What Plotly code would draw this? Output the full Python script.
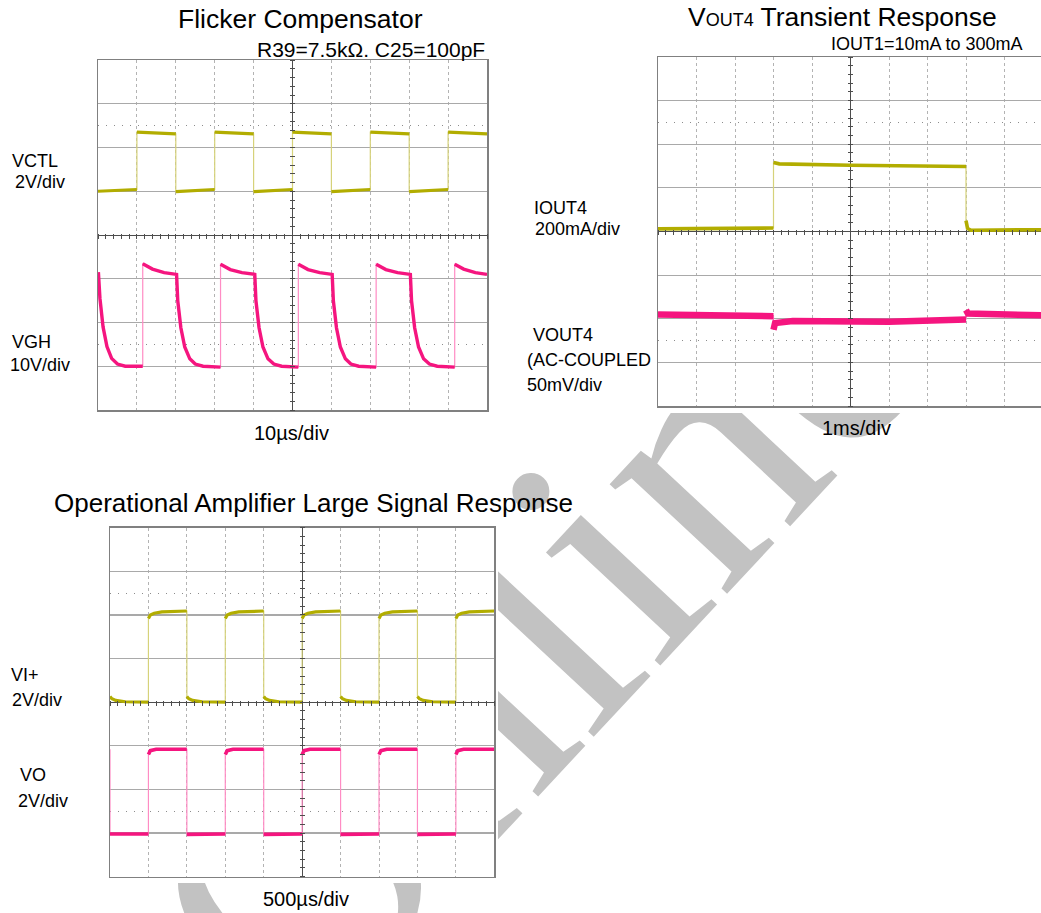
import plotly.graph_objects as go

W, H = 1041, 913

# ---------------- data (time and amplitude in scope divisions) ----------------
# Flicker Compensator (10us/div): VCTL 2V/div, VGH 10V/div
vctl_t = [-5, -4, -4, -3, -3, -2, -2, -1, -1, 0, 0, 1, 1, 2, 2, 3, 3, 4, 4, 5]
vctl_v = [1.0, 1.04, 2.35, 2.31, 0.99, 1.04, 2.35, 2.31, 0.99, 1.04, 2.35, 2.31,
          0.99, 1.04, 2.35, 2.31, 0.99, 1.04, 2.35, 2.31]

vgh_t = [-4.99, -4.95, -4.87, -4.77, -4.65, -4.5, -4.3, -3.85,
         -3.85, -3.6, -3.3, -2.98,
         -2.95, -2.87, -2.77, -2.64, -2.5, -2.3, -1.85,
         -1.85, -1.6, -1.3, -0.97,
         -0.94, -0.86, -0.76, -0.63, -0.48, -0.28, 0.15,
         0.15, 0.4, 0.7, 1.02,
         1.05, 1.13, 1.23, 1.36, 1.5, 1.7, 2.15,
         2.15, 2.4, 2.7, 3.03,
         3.06, 3.14, 3.24, 3.37, 3.52, 3.72, 4.17,
         4.17, 4.4, 4.7, 5.0]
vgh_v = [-0.85, -1.45, -2.1, -2.55, -2.82, -2.95, -3.0, -3.0,
         -0.66, -0.78, -0.86, -0.9,
         -1.5, -2.12, -2.56, -2.83, -2.95, -3.0, -3.02,
         -0.67, -0.79, -0.86, -0.9,
         -1.5, -2.12, -2.56, -2.83, -2.95, -3.0, -3.02,
         -0.67, -0.79, -0.86, -0.9,
         -1.5, -2.12, -2.56, -2.83, -2.95, -3.0, -3.02,
         -0.67, -0.79, -0.86, -0.9,
         -1.5, -2.12, -2.56, -2.83, -2.95, -3.0, -3.02,
         -0.67, -0.78, -0.86, -0.9]

# VOUT4 Transient Response (1ms/div): IOUT4 200mA/div, VOUT4 50mV/div (AC)
iout4_t = [-5, -2, -2, -1.85, 0, 3.0, 3.0, 3.04, 3.12, 5]
iout4_v = [0.06, 0.08, 1.58, 1.55, 1.52, 1.49, 0.25, 0.07, 0.03, 0.04]

vout4_t = [-5, -2, -2, -1.96, -1.5, 0, 1, 3, 3, 3.05, 5]
vout4_v = [-1.9, -1.94, -2.25, -2.1, -2.05, -2.06, -2.07, -2.02, -1.8, -1.88, -1.92]

# Operational Amplifier Large Signal Response (500us/div): VI+ 2V/div, VO 2V/div
vip_t = [-5, -4.95, -4.85, -4.6, -4, -4, -3.95, -3.85, -3.65, -3,
         -3, -2.95, -2.85, -2.6, -2, -2, -1.95, -1.85, -1.65, -1,
         -1, -0.95, -0.85, -0.6, 0, 0, 0.05, 0.15, 0.35, 1,
         1, 1.05, 1.15, 1.4, 2, 2, 2.05, 2.15, 2.35, 3,
         3, 3.05, 3.15, 3.4, 4, 4, 4.05, 4.15, 4.35, 5]
vip_v = [0.13, 0.08, 0.04, 0.01, 0.0, 1.92, 2.0, 2.04, 2.07, 2.09,
         0.13, 0.08, 0.04, 0.01, 0.0, 1.92, 2.0, 2.04, 2.07, 2.09,
         0.13, 0.08, 0.04, 0.01, 0.0, 1.92, 2.0, 2.04, 2.07, 2.09,
         0.13, 0.08, 0.04, 0.01, 0.0, 1.92, 2.0, 2.04, 2.07, 2.09,
         0.13, 0.08, 0.04, 0.01, 0.0, 1.92, 2.0, 2.04, 2.07, 2.09]

vo_t = [-5, -5, -4, -4, -3.95, -3.8, -3, -3, -2, -2, -1.95, -1.8, -1, -1, 0, 0,
        0.05, 0.2, 1, 1, 2, 2, 2.05, 2.2, 3, 3, 4, 4, 4.05, 4.2, 5]
vo_v = [-1.08, -3.02, -3.02, -1.2, -1.11, -1.08, -1.08, -3.03, -3.02, -1.2, -1.11,
        -1.08, -1.08, -3.03, -3.02, -1.2, -1.11, -1.08, -1.08, -3.03, -3.02, -1.2,
        -1.11, -1.08, -1.08, -3.03, -3.02, -1.2, -1.11, -1.08, -1.08]

# channel ground-reference levels and trigger settings (divisions)
ground_levels = {2: [1.0, -3.0], 3: [0.0, -1.95], 4: [0.0, -3.0]}
trigger_time = {2: 0.0, 3: -2.0, 4: 0.0}
trigger_level = {2: 2.0, 3: None, 4: 1.0}

# watermark text
watermark_text = "Online"

YEL, YEL_EDGE = "#b2ad00", "#d6d27a"
PNK, PNK_EDGE = "#f5157f", "#ff8cc4"
FONT = "Liberation Sans, Arial, sans-serif"

# ---------------- layout geometry (pixels) ----------------
boxes = {2: (98, 487, 60, 410), 3: (658, 1043, 57, 406), 4: (110, 494.3, 527.7, 876.7)}
# opaque areas of the scope screenshots (hide the watermark)
image_areas = [(640, 1041, 48, 413), (92, 498, 516, 883)]
wm_center, wm_size, wm_angle = (508, 600), 350, -47


def X(px):
    return px / W


def Y(py):
    return 1 - py / H


def split_edges(t, v):
    xs, ys = [t[0]], [v[0]]
    for i in range(1, len(t)):
        if t[i] == t[i - 1]:
            xs.append(None)
            ys.append(None)
        xs.append(t[i])
        ys.append(v[i])
    return xs, ys


fig = go.Figure()
layout = dict(width=W, height=H, autosize=False, margin=dict(l=0, r=0, t=0, b=0),
              paper_bgcolor="white", plot_bgcolor="rgba(0,0,0,0)", showlegend=False,
              font=dict(family=FONT, color="black"))

shapes = [dict(type="rect", xref="paper", yref="paper", layer="below",
               x0=X(wm_center[0] - 1), x1=X(wm_center[0] + 1),
               y0=Y(wm_center[1] + 1), y1=Y(wm_center[1] - 1),
               line=dict(width=0), fillcolor="rgba(0,0,0,0)",
               label=dict(text=watermark_text, textangle=wm_angle, textposition="middle center",
                          font=dict(family="Liberation Serif, Times New Roman, serif",
                                    size=wm_size, color="#c2c2c2"), padding=0))]
for (ax0, ax1, ay0, ay1) in image_areas:
    shapes.append(dict(type="rect", xref="paper", yref="paper", layer="below",
                       x0=X(ax0), x1=X(ax1), y0=Y(ay1), y1=Y(ay0),
                       line=dict(width=0), fillcolor="white"))
layout["shapes"] = shapes

for n, (x0, x1, y0, y1) in boxes.items():
    x1c = min(x1, W)
    xr = [-5, -5 + 10 * (x1c - x0) / (x1 - x0)]
    yr = [-4, 4]
    pxc, pyc = (x0 + x1) / 2, (y0 + y1) / 2
    layout[f"xaxis{n}"] = dict(domain=[X(x0), X(x1c)], range=xr, anchor=f"y{n}",
                               tickmode="linear", tick0=0, dtick=1, showgrid=True,
                               gridcolor="#b3b3b3", griddash="dot", gridwidth=1,
                               zeroline=True, zerolinecolor="#4d4d4d", zerolinewidth=1,
                               showline=True, mirror=True, linecolor="#808080", linewidth=1.5,
                               showticklabels=False, ticks="", fixedrange=True)
    layout[f"yaxis{n}"] = dict(domain=[Y(y1), Y(y0)], range=yr, anchor=f"x{n}",
                               tickmode="linear", tick0=0, dtick=1, showgrid=True,
                               gridcolor="#a9a9a9", gridwidth=1.2,
                               zeroline=True, zerolinecolor="#4d4d4d", zerolinewidth=1,
                               showline=True, mirror=(x1 <= W), linecolor="#808080", linewidth=1.5,
                               showticklabels=False, ticks="", fixedrange=True)
    # minor ticks on the centre graticule lines
    layout[f"xaxis{n + 3}"] = dict(overlaying=f"x{n}", anchor="free", position=Y(pyc - 2.5),
                                   range=xr, tickmode="linear", tick0=0, dtick=0.2,
                                   ticks="outside", ticklen=5, tickwidth=1, tickcolor="#4d4d4d",
                                   showticklabels=False, showgrid=False, zeroline=False,
                                   showline=False, fixedrange=True)
    layout[f"yaxis{n + 3}"] = dict(overlaying=f"y{n}", anchor="free", position=X(pxc + 2.5),
                                   range=yr, tickmode="linear", tick0=0, dtick=0.2,
                                   ticks="outside", ticklen=5, tickwidth=1, tickcolor="#4d4d4d",
                                   showticklabels=False, showgrid=False, zeroline=False,
                                   showline=False, fixedrange=True)
    # dotted rise-time reference lines
    layout[f"yaxis{n + 6}"] = dict(overlaying=f"y{n}", anchor=f"x{n}", range=yr,
                                   tickmode="array", tickvals=[-2.5, 2.5], showgrid=True,
                                   gridcolor="#8c8c8c", griddash="1px,7px", gridwidth=1,
                                   ticks="", showticklabels=False, zeroline=False,
                                   showline=False, fixedrange=True)
    fig.add_trace(go.Scatter(x=[], y=[], xaxis=f"x{n + 3}", yaxis=f"y{n}", hoverinfo="skip"))
    fig.add_trace(go.Scatter(x=[], y=[], xaxis=f"x{n}", yaxis=f"y{n + 3}", hoverinfo="skip"))
    fig.add_trace(go.Scatter(x=[], y=[], xaxis=f"x{n}", yaxis=f"y{n + 6}", hoverinfo="skip"))

channels = [
    (2, vctl_t, vctl_v, YEL, YEL_EDGE, 3.2),
    (2, vgh_t, vgh_v, PNK, PNK_EDGE, 3.4),
    (3, iout4_t, iout4_v, YEL, YEL_EDGE, 3.6),
    (3, vout4_t, vout4_v, PNK, PNK_EDGE, 6.5),
    (4, vip_t, vip_v, YEL, YEL_EDGE, 3.2),
    (4, vo_t, vo_v, PNK, PNK_EDGE, 3.6),
]
for n, t, v, col, ecol, lw in channels:
    fig.add_trace(go.Scatter(x=t, y=v, mode="lines", xaxis=f"x{n}", yaxis=f"y{n}",
                             line=dict(color=ecol, width=1.2), hoverinfo="skip"))
    xs, ys = split_edges(t, v)
    fig.add_trace(go.Scatter(x=xs, y=ys, mode="lines", xaxis=f"x{n}", yaxis=f"y{n}",
                             line=dict(color=col, width=lw), connectgaps=False,
                             hoverinfo="skip"))

# ground markers, trigger markers
for n in boxes:
    g = ground_levels[n]
    fig.add_trace(go.Scatter(x=[-5.12, -5.12], y=g, mode="markers", xaxis=f"x{n}", yaxis=f"y{n}",
                             marker=dict(symbol="line-ew", size=7,
                                         line=dict(color=[YEL, PNK], width=2)),
                             cliponaxis=False, hoverinfo="skip"))
    fig.add_trace(go.Scatter(x=[trigger_time[n]], y=[-4.11], mode="markers", xaxis=f"x{n}",
                             yaxis=f"y{n}", marker=dict(symbol="triangle-up", size=6, color=YEL),
                             cliponaxis=False, hoverinfo="skip"))
    if trigger_level[n] is not None:
        fig.add_trace(go.Scatter(x=[5.1], y=[trigger_level[n]], mode="markers", xaxis=f"x{n}",
                                 yaxis=f"y{n}",
                                 marker=dict(symbol="triangle-left", size=6, color=YEL),
                                 cliponaxis=False, hoverinfo="skip"))

# ---------------- text ----------------
texts = [
    ("Flicker Compensator", 300.5, 19, "center", 26.5),
    ("R39=7.5kΩ. C25=100pF", 486, 49.5, "right", 21),
    ("V<span style='font-size:18px'>OUT4</span> Transient Response", 842, 16.5, "center", 26.5),
    ("IOUT1=10mA to 300mA", 830, 44.5, "left", 18),
    ("Operational Amplifier Large Signal Response", 313, 503, "center", 26),
    ("VCTL", 11, 160.5, "left", 18),
    ("2V/div", 14, 182, "left", 18),
    ("VGH", 11, 342.5, "left", 18),
    ("10V/div", 8.5, 365, "left", 18),
    ("IOUT4", 533, 208, "left", 18),
    ("200mA/div", 534, 229, "left", 18),
    ("VOUT4", 532, 335, "left", 18),
    ("(AC-COUPLED", 526, 359.7, "left", 18),
    ("50mV/div", 526, 384.5, "left", 18),
    ("VI+", 10, 674.5, "left", 18),
    ("2V/div", 11, 699.7, "left", 18),
    ("VO", 18.5, 775, "left", 18),
    ("2V/div", 16.5, 800.5, "left", 18),
    ("10µs/div", 291.7, 432.5, "center", 20),
    ("1ms/div", 856.4, 428.5, "center", 20),
    ("500µs/div", 305.5, 899.3, "center", 20),
]
annotations = []
for txt, px, py, anc, size in texts:
    annotations.append(dict(text=txt, x=X(px), y=Y(py), xref="paper", yref="paper",
                            xanchor=anc, yanchor="middle", showarrow=False,
                            font=dict(family=FONT, size=size, color="black"),
                            borderpad=0))
layout["annotations"] = annotations

fig.update_layout(**layout)
fig.write_html("out.html", config={"displayModeBar": False, "staticPlot": True},
               post_script="document.body.style.margin='0';document.body.style.overflow='hidden';")
